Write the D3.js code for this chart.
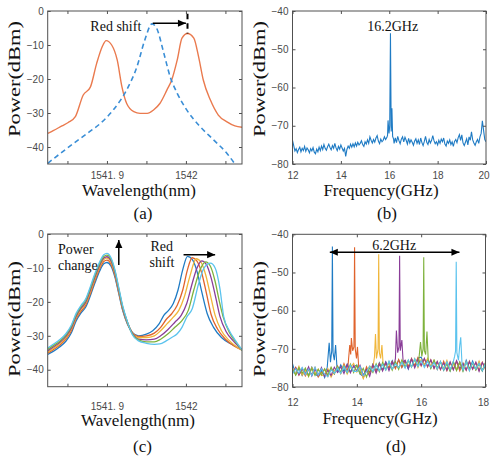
<!DOCTYPE html>
<html>
<head>
<meta charset="utf-8">
<script src="https://cdn.jsdelivr.net/npm/d3@7"></script>
<style>
html, body { margin: 0; padding: 0; background: #fff; }
svg { display: block; }
</style>
</head>
<body>
<svg id="fig" width="490" height="459"></svg>
<script>
// ---------- data ----------
// (a) optical spectra, [wavelength nm, power dBm]
const aBefore = [
	[1541.825, -44.8], [1541.841, -41.9], [1541.858, -38.9], [1541.875, -36.0], [1541.892, -33.0],
	[1541.908, -29.1], [1541.925, -23.2], [1541.938, -16.4], [1541.948, -8.5], [1541.957, -3.8],
	[1541.963, -5.1], [1541.972, -12.4], [1541.980, -19.3], [1541.989, -24.2], [1542.001, -29.1],
	[1542.018, -34.0], [1542.035, -37.9], [1542.052, -41.9], [1542.062, -45.0]
];
const aAfter = [
	[1541.825, -36.0], [1541.832, -35.2], [1541.843, -33.8], [1541.851, -32.8], [1541.860, -31.1],
	[1541.870, -24.7], [1541.879, -22.4], [1541.887, -15.4], [1541.894, -10.5], [1541.899, -8.7],
	[1541.906, -10.0], [1541.913, -14.4], [1541.919, -22.3], [1541.925, -27.2], [1541.934, -29.6],
	[1541.942, -30.1], [1541.951, -30.1], [1541.959, -29.1], [1541.967, -27.2], [1541.976, -23.2],
	[1541.982, -20.3], [1541.989, -14.4], [1541.995, -8.0], [1542.002, -6.6], [1542.010, -8.0],
	[1542.016, -13.4], [1542.022, -20.3], [1542.031, -26.2], [1542.041, -30.6], [1542.052, -32.6],
	[1542.062, -33.8], [1542.072, -34.2]
];

// (b) RF spectrum: noise floor on a 0.05 GHz grid from 12 GHz, plus the beat note
const bNoise = [
	-73.8, -75.2, -76.6, -76.0, -77.0, -76.2, -75.6, -76.8, -75.9, -76.5,
	-75.4, -76.7, -75.8, -76.3, -77.1, -76.0, -76.6, -75.7, -76.9, -77.3,
	-76.1, -76.8, -75.6, -76.5, -75.3, -76.2, -74.9, -75.9, -76.4, -75.5,
	-74.8, -75.7, -76.3, -75.2, -75.9, -74.6, -75.8, -76.5, -75.4, -76.1,
	-75.0, -75.8, -76.6, -75.9, -78.0, -76.2, -75.3, -75.9, -74.8, -75.6,
	-74.7, -75.5, -74.5, -75.3, -74.3, -75.0, -74.6, -73.9, -74.9, -75.4,
	-74.2, -74.8, -73.7, -74.6, -72.9, -73.8, -74.5, -73.6, -74.3, -73.2,
	-72.6, -74.0, -74.7, -73.5, -74.2, -73.8, -72.9, -73.6, -73.1, -72.4,
	-72.0, -72.0, -72.0, -72.0, -74.6, -73.2, -74.4, -72.8, -73.9, -74.7,
	-73.5, -72.9, -74.2, -73.0, -73.8, -74.8, -73.3, -74.5, -73.7, -74.3,
	-75.1, -74.0, -73.4, -74.6, -73.7, -74.9, -73.2, -74.4, -75.2, -74.1,
	-72.8, -74.3, -74.9, -73.6, -74.5, -73.8, -72.6, -73.9, -74.7, -74.2,
	-75.0, -73.8, -74.6, -73.5, -74.2, -73.2, -74.8, -75.3, -74.0, -74.6,
	-73.7, -74.9, -74.2, -75.4, -74.1, -73.6, -74.4, -73.1, -72.3, -73.8,
	-72.4, -74.5, -75.2, -74.3, -73.4, -75.0, -72.9, -73.8, -71.6, -73.7,
	-74.5, -75.1, -74.2, -73.6, -74.6, -72.9, -72.0, -68.7, -71.2, -73.6,
	-74.2
];
const bPeak = [
	[15.93, -72.5], [15.95, -68.6], [15.99, -72.0], [16.02, -70.0], [16.05, -45.8],
	[16.08, -71.5], [16.11, -65.4], [16.14, -72.8], [16.18, -73.5]
];

// (c) optical spectra for six bias points, [wavelength nm, power dBm]
const cTrace1 = [
	[1541.825, -35.5], [1541.832, -34.6], [1541.840, -33.3], [1541.848, -31.6], [1541.855, -29.1],
	[1541.861, -25.6], [1541.867, -23.3], [1541.873, -21.6], [1541.879, -18.2], [1541.885, -14.3],
	[1541.891, -10.8], [1541.896, -8.8], [1541.900, -8.4], [1541.905, -9.4], [1541.910, -12.6],
	[1541.915, -17.6], [1541.920, -22.6], [1541.926, -26.6], [1541.932, -29.0],
	[1541.940, -30.0], [1541.950, -29.5], [1541.958, -28.5], [1541.966, -26.5], [1541.972, -24.0],
	[1541.978, -22.5], [1541.984, -20.5], [1541.990, -16.5], [1541.996, -10.5], [1542.002, -6.6],
	[1542.008, -7.5], [1542.014, -11.0], [1542.020, -17.0], [1542.027, -23.5], [1542.035, -27.5],
	[1542.045, -30.5], [1542.058, -32.5], [1542.072, -34.2]
];
const cTrace2 = [
	[1541.825, -35.1], [1541.832, -34.1], [1541.840, -32.8], [1541.848, -31.0], [1541.855, -28.5],
	[1541.861, -25.0], [1541.867, -22.8], [1541.873, -21.0], [1541.879, -17.6], [1541.885, -13.6],
	[1541.891, -10.1], [1541.896, -8.1], [1541.900, -7.7], [1541.905, -8.8], [1541.910, -12.1],
	[1541.915, -17.2], [1541.920, -22.3], [1541.926, -26.4], [1541.932, -29.0],
	[1541.940, -30.2], [1541.950, -30.0], [1541.960, -29.2], [1541.968, -27.5], [1541.975, -25.2],
	[1541.982, -23.5], [1541.989, -21.0], [1541.996, -16.5], [1542.002, -10.5], [1542.008, -7.0],
	[1542.014, -8.0], [1542.020, -11.5], [1542.026, -17.5], [1542.032, -23.8], [1542.040, -28.0],
	[1542.050, -31.0], [1542.061, -33.0], [1542.072, -34.3]
];
const cTrace3 = [
	[1541.825, -34.8], [1541.832, -33.7], [1541.840, -32.4], [1541.848, -30.6], [1541.855, -28.0],
	[1541.861, -24.6], [1541.867, -22.3], [1541.873, -20.5], [1541.879, -17.0], [1541.885, -13.0],
	[1541.891, -9.6], [1541.896, -7.5], [1541.900, -7.1], [1541.905, -8.2], [1541.910, -11.6],
	[1541.915, -16.8], [1541.920, -22.0], [1541.926, -26.2], [1541.932, -29.1],
	[1541.940, -30.5], [1541.950, -30.5], [1541.960, -30.0], [1541.968, -28.5], [1541.976, -26.5],
	[1541.984, -24.5], [1541.991, -22.5], [1541.998, -18.5], [1542.005, -12.5], [1542.013, -7.3],
	[1542.019, -8.3], [1542.025, -12.0], [1542.031, -18.0], [1542.037, -24.0], [1542.045, -28.5],
	[1542.054, -31.2], [1542.064, -33.2], [1542.072, -34.4]
];
const cTrace4 = [
	[1541.825, -34.4], [1541.832, -33.3], [1541.840, -32.0], [1541.848, -30.2], [1541.855, -27.6],
	[1541.861, -24.2], [1541.867, -21.9], [1541.873, -20.1], [1541.879, -16.5], [1541.885, -12.5],
	[1541.891, -9.1], [1541.896, -7.1], [1541.900, -6.7], [1541.905, -7.8], [1541.910, -11.2],
	[1541.915, -16.5], [1541.920, -21.8], [1541.926, -26.1], [1541.932, -29.2],
	[1541.940, -31.0], [1541.950, -31.2], [1541.960, -31.0], [1541.968, -30.0], [1541.977, -28.2],
	[1541.986, -26.0], [1541.994, -24.0], [1542.001, -20.5], [1542.008, -14.5], [1542.014, -10.0],
	[1542.020, -7.9], [1542.026, -9.0], [1542.032, -13.0], [1542.038, -19.0], [1542.043, -24.2],
	[1542.051, -28.8], [1542.060, -31.5], [1542.072, -34.4]
];
const cTrace5 = [
	[1541.825, -34.0], [1541.832, -32.9], [1541.840, -31.6], [1541.848, -29.8], [1541.855, -27.2],
	[1541.861, -23.8], [1541.867, -21.5], [1541.873, -19.6], [1541.879, -16.0], [1541.885, -12.0],
	[1541.891, -8.6], [1541.896, -6.6], [1541.900, -6.2], [1541.905, -7.3], [1541.910, -10.8],
	[1541.915, -16.1], [1541.920, -21.5], [1541.926, -26.0], [1541.932, -29.4],
	[1541.940, -31.2], [1541.950, -31.8], [1541.960, -31.8], [1541.968, -31.0], [1541.977, -29.5],
	[1541.986, -27.5], [1541.995, -25.5], [1542.003, -22.5], [1542.010, -16.5], [1542.018, -10.5],
	[1542.025, -8.2], [1542.031, -9.5], [1542.037, -14.0], [1542.042, -19.5], [1542.047, -24.3],
	[1542.055, -29.0], [1542.063, -31.8], [1542.072, -34.5]
];
const cTrace6 = [
	[1541.825, -33.6], [1541.832, -32.5], [1541.840, -31.2], [1541.848, -29.4], [1541.855, -26.8],
	[1541.861, -23.4], [1541.867, -21.1], [1541.873, -19.2], [1541.879, -15.5], [1541.885, -11.5],
	[1541.891, -8.1], [1541.896, -6.1], [1541.900, -5.7], [1541.905, -6.9], [1541.910, -10.4],
	[1541.915, -15.8], [1541.920, -21.2], [1541.926, -25.9], [1541.932, -29.6],
	[1541.940, -31.5], [1541.950, -32.2], [1541.960, -32.5], [1541.967, -32.4], [1541.975, -31.5],
	[1541.982, -30.5], [1541.989, -29.4], [1541.995, -27.5], [1542.001, -24.5], [1542.008, -22.0],
	[1542.016, -14.7], [1542.023, -10.0], [1542.031, -8.6], [1542.037, -10.0], [1542.043, -16.0],
	[1542.048, -24.5], [1542.055, -28.5], [1542.063, -31.5], [1542.072, -34.5]
];

// (d) RF spectra: noise floors on a 0.1 GHz grid from 12 GHz, plus beat notes
const dNoise1 = [
	-73.9, -76.8, -75.1, -77.0, -75.4, -76.9, -74.8, -76.6, -77.2, -75.6,
	-77.5, -75.8, -76.9, -74.6, -76.3, -74.2, -75.9, -74.0, -76.1, -74.6,
	-74.3, -76.6, -77.3, -75.2, -76.1, -74.0, -75.8, -73.6, -75.5, -73.4,
	-75.2, -73.1, -75.0, -72.9, -74.8, -73.2, -75.3, -72.6, -74.6, -72.4,
	-72.2, -74.3, -72.8, -75.0, -73.1, -75.4, -73.3, -75.6, -73.6, -75.8,
	-73.5, -75.5, -73.4, -75.7, -73.0, -75.3, -73.2, -75.5, -73.5, -75.8, -73.7
];
const dNoise2 = [
	-76.3, -74.8, -76.9, -75.2, -77.1, -75.5, -76.8, -74.9, -77.4, -76.2,
	-75.4, -77.2, -75.1, -76.6, -74.5, -76.4, -73.9, -76.0, -74.2, -76.3,
	-77.0, -75.3, -77.6, -74.7, -76.4, -74.2, -75.9, -73.8, -75.6, -73.9,
	-74.9, -73.3, -75.2, -72.8, -74.9, -73.1, -74.6, -72.5, -74.4, -72.3,
	-74.5, -72.6, -74.8, -72.9, -75.2, -73.4, -75.5, -73.2, -75.7, -73.6,
	-75.4, -73.3, -75.8, -73.7, -75.6, -73.2, -75.3, -73.6, -75.7, -73.5, -75.4
];
const dNoise3 = [
	-75.0, -76.7, -74.6, -76.9, -75.6, -77.3, -74.9, -76.5, -75.3, -77.0,
	-76.8, -75.2, -77.4, -75.7, -74.9, -76.5, -74.3, -76.6, -74.9, -73.8,
	-76.1, -75.0, -77.8, -75.9, -74.5, -76.3, -74.0, -76.1, -73.7, -75.3,
	-73.6, -75.4, -73.5, -75.0, -73.2, -74.6, -73.0, -74.8, -72.6, -74.9,
	-72.8, -74.1, -72.5, -74.6, -73.0, -75.3, -73.6, -75.1, -73.0, -75.6,
	-74.0, -75.4, -73.5, -75.0, -73.4, -75.7, -73.8, -75.5, -73.2, -75.6, -74.0
];
const dNoise4 = [
	-76.4, -75.0, -76.8, -75.1, -76.6, -74.7, -77.1, -75.3, -76.9, -74.9,
	-77.2, -75.6, -77.0, -74.8, -76.2, -74.7, -76.5, -74.1, -76.3, -74.4,
	-75.8, -74.3, -76.9, -75.4, -77.2, -74.2, -76.4, -74.0, -75.8, -73.5,
	-75.7, -73.4, -75.5, -73.2, -74.9, -73.0, -75.2, -72.7, -75.0, -72.8,
	-74.3, -72.5, -74.6, -72.9, -75.1, -73.3, -75.4, -73.7, -75.6, -73.4,
	-75.5, -73.1, -75.2, -73.9, -75.6, -73.4, -75.3, -73.5, -75.9, -73.6, -75.1
];
const dNoise5 = [
	-75.3, -76.9, -74.9, -76.4, -75.0, -77.2, -75.1, -77.0, -75.4, -76.8,
	-75.2, -76.9, -74.8, -76.6, -74.6, -76.1, -74.5, -76.3, -74.0, -76.2,
	-74.3, -76.5, -75.1, -77.4, -74.9, -76.2, -73.9, -76.0, -73.6, -75.5,
	-73.4, -75.6, -73.3, -75.4, -72.9, -74.8, -73.1, -74.7, -72.8, -74.5,
	-72.7, -74.6, -72.8, -75.2, -73.0, -75.0, -73.4, -75.6, -73.9, -75.8,
	-73.3, -75.7, -73.6, -75.9, -73.5, -75.2, -73.7, -75.5, -74.0, -75.8, -73.6
];
const dNoise6 = [
	-76.6, -75.2, -76.4, -74.9, -76.8, -75.3, -77.0, -74.8, -76.9, -75.2,
	-76.7, -77.3, -75.5, -76.4, -75.0, -76.5, -74.6, -76.2, -74.3, -75.9,
	-75.9, -74.6, -77.1, -76.0, -74.6, -75.9, -74.3, -75.7, -74.1, -75.6,
	-73.2, -75.3, -73.9, -74.9, -73.5, -75.1, -72.9, -74.8, -72.6, -74.6,
	-73.1, -74.9, -73.3, -74.8, -73.6, -75.2, -73.4, -75.5, -73.4, -75.4,
	-73.8, -75.6, -73.9, -75.7, -73.4, -75.8, -73.6, -75.3, -73.8, -75.7, -73.9
];
const dPeak1 = [[13.08, -74.8], [13.14, -68.4], [13.18, -73.5], [13.22, -70.5], [13.24, -43.2], [13.26, -71.0], [13.30, -73.0], [13.34, -69.0], [13.38, -74.5]];
const dPeak2 = [[13.72, -75.0], [13.78, -69.0], [13.81, -71.5], [13.83, -67.2], [13.87, -70.5], [13.91, -69.5], [13.93, -43.4], [13.95, -70.0], [13.99, -72.5], [14.02, -69.5], [14.06, -75.0]];
const dPeak3 = [[14.50, -75.0], [14.55, -72.0], [14.58, -66.1], [14.61, -72.5], [14.66, -70.0], [14.68, -45.2], [14.70, -71.0], [14.74, -72.5], [14.78, -69.0], [14.82, -74.5]];
const dPeak4 = [[15.15, -74.8], [15.20, -72.5], [15.23, -65.2], [15.27, -71.0], [15.31, -69.5], [15.33, -45.6], [15.35, -70.5], [15.40, -67.7], [15.44, -73.5]];
const dPeak5 = [[15.92, -73.5], [15.98, -68.2], [16.02, -72.0], [16.06, -70.0], [16.08, -46.0], [16.10, -70.5], [16.14, -71.5], [16.18, -65.5], [16.22, -73.0]];
const dPeak6 = [[16.98, -74.0], [17.04, -72.0], [17.07, -70.5], [17.09, -47.2], [17.11, -71.0], [17.16, -73.0], [17.20, -69.0], [17.23, -67.0], [17.27, -74.0]];

// axis ticks
const wlTicks = [1541.85, 1541.9, 1541.95, 1542, 1542.05];
const wlTickText = { 1541.9: "1541. 9", 1542: "1542" };
const optPowTicks = [0, -10, -20, -30, -40];
const rfPowTicks = [-40, -50, -60, -70, -80];
const bFreqTicks = [12, 14, 16, 18, 20];
const dFreqTicks = [12, 14, 16, 18];

// MATLAB default line colours
const matlab = ["#1f7bc4", "#e0632c", "#f0b63a", "#8a3d98", "#7eb23c", "#5bc3ee"];

// ---------- drawing ----------
const SERIF = "'Liberation Serif','Times New Roman',serif";
const SANS = "'Liberation Sans',Arial,Helvetica,sans-serif";
const svg = d3.select("#fig");
svg.append("rect").attr("width", 490).attr("height", 459).attr("fill", "#fff");

// noise grid merged with the peak cluster (grid points inside the cluster are dropped)
function withPeaks(start, step, noise, peaks) {
	const lo = peaks[0][0], hi = peaks[peaks.length - 1][0];
	return noise
		.map((v, i) => [+(start + i * step).toFixed(3), v])
		.filter(([f]) => f < lo || f > hi)
		.concat(peaks)
		.sort((a, b) => a[0] - b[0]);
}

function makePanel(o) {
	const x = d3.scaleLinear().domain(o.xDomain).range([o.left, o.right]);
	const y = d3.scaleLinear().domain(o.yDomain).range([o.bottom, o.top]);
	const g = svg.append("g");

	g.append("clipPath").attr("id", "clip-" + o.id)
		.append("rect")
		.attr("x", o.left).attr("y", o.top)
		.attr("width", o.right - o.left).attr("height", o.bottom - o.top);
	const plot = g.append("g").attr("clip-path", `url(#clip-${o.id})`);

	const tickColor = "#505050";
	const axes = g.append("g")
		.attr("font-family", SANS)
		.attr("font-size", 10);

	//bottom, with labels
	const bottomAxis = axes.append("g")
		.attr("transform", `translate(0,${o.bottom})`)
		.call(d3.axisBottom(x).tickValues(o.xTicks).tickSize(-3).tickPadding(o.xTickY - o.bottom - 7).tickFormat(o.xFmt));
	//keep the last label inside the picture
	bottomAxis.selectAll(".tick:last-of-type text").attr("dx", o.lastDx || 0);
	//top, ticks only
	axes.append("g")
		.attr("transform", `translate(0,${o.top})`)
		.call(d3.axisTop(x).tickValues(o.xTicks).tickSize(-3).tickFormat(""));
	//left, with labels
	axes.append("g")
		.attr("transform", `translate(${o.left},0)`)
		.call(d3.axisLeft(y).tickValues(o.yTicks).tickSize(-3).tickPadding(4).tickFormat(d3.format("d")));
	//right, ticks only
	axes.append("g")
		.attr("transform", `translate(${o.right},0)`)
		.call(d3.axisRight(y).tickValues(o.yTicks).tickSize(-3).tickFormat(""));

	axes.selectAll(".domain").remove();
	axes.selectAll(".tick line").attr("stroke", tickColor);
	axes.selectAll(".tick text").attr("fill", "#4a4a4a");

	g.append("rect")
		.attr("x", o.left).attr("y", o.top)
		.attr("width", o.right - o.left).attr("height", o.bottom - o.top)
		.attr("fill", "none").attr("stroke", tickColor).attr("stroke-width", 1);

	//axis titles and caption
	g.append("text")
		.attr("x", o.xLabelX).attr("y", o.xLabelY)
		.attr("text-anchor", "middle")
		.attr("font-family", SERIF).attr("font-size", 17).attr("fill", "#111")
		.text(o.xLabel);
	g.append("text")
		.attr("transform", `translate(${o.yLabelX},${o.yLabelY}) rotate(-90) scale(1.32,1)`)
		.attr("text-anchor", "middle")
		.attr("font-family", SERIF).attr("font-size", 17).attr("fill", "#111")
		.text("Power(dBm)");
	g.append("text")
		.attr("x", o.capX).attr("y", o.capY)
		.attr("text-anchor", "middle")
		.attr("font-family", SERIF).attr("font-size", 17).attr("fill", "#111")
		.text(o.caption);

	return { x, y, g, plot };
}

function note(g, txt, px, py, anchor) {
	g.append("text")
		.attr("x", px).attr("y", py)
		.attr("text-anchor", anchor || "start")
		.attr("font-family", SERIF).attr("font-size", 14).attr("fill", "#111")
		.text(txt);
}

// arrow from (x1,y1) to (x2,y2); heads at the end, and at the start when both = true
function arrow(g, x1, y1, x2, y2, both) {
	const len = 8, half = 3.6;
	const ang = Math.atan2(y2 - y1, x2 - x1);
	const head = (hx, hy, a) => {
		const bx = hx - len * Math.cos(a), by = hy - len * Math.sin(a);
		const px = -Math.sin(a) * half, py = Math.cos(a) * half;
		return `M${hx},${hy}L${bx + px},${by + py}L${bx - px},${by - py}Z`;
	};
	g.append("line")
		.attr("x1", x1).attr("y1", y1).attr("x2", x2).attr("y2", y2)
		.attr("stroke", "#000").attr("stroke-width", 1.5);
	g.append("path").attr("d", head(x2, y2, ang)).attr("fill", "#000");
	if (both) g.append("path").attr("d", head(x1, y1, ang + Math.PI)).attr("fill", "#000");
}

const fmtWl = (d) => wlTickText[d] || "";

// ---- panel (a)
const pa = makePanel({
	id: "a", left: 47.7, top: 11, right: 242, bottom: 164,
	xDomain: [1541.825, 1542.071], yDomain: [-45, 0],
	xTicks: wlTicks, yTicks: optPowTicks, xFmt: fmtWl, xTickY: 179,
	xLabel: "Wavelength(nm)", xLabelX: 139, xLabelY: 196,
	yLabelX: 20, yLabelY: 79, caption: "(a)", capX: 143, capY: 219
});
const smooth = d3.line().curve(d3.curveMonotoneX);
pa.plot.append("path")
	.attr("d", smooth.x((d) => pa.x(d[0])).y((d) => pa.y(d[1]))(aAfter))
	.attr("fill", "none").attr("stroke", "#ea7a4e").attr("stroke-width", 1.4);
pa.plot.append("path")
	.attr("d", smooth.x((d) => pa.x(d[0])).y((d) => pa.y(d[1]))(aBefore))
	.attr("fill", "none").attr("stroke", "#3a8ed6").attr("stroke-width", 1.6)
	.attr("stroke-dasharray", "5,3.5");
pa.g.append("line")
	.attr("x1", pa.x(1542.002)).attr("x2", pa.x(1542.002))
	.attr("y1", pa.y(-0.8)).attr("y2", pa.y(-6.6))
	.attr("stroke", "#000").attr("stroke-width", 2).attr("stroke-dasharray", "5.5,4");
arrow(pa.g, pa.x(1541.958), pa.y(-3.6), pa.x(1542.000), pa.y(-3.6));
note(pa.g, "Red shift", pa.x(1541.879), pa.y(-5.9));

// ---- panel (b)
const pb = makePanel({
	id: "b", left: 292.5, top: 11, right: 486, bottom: 164,
	xDomain: [12, 20], yDomain: [-80, -40],
	xTicks: bFreqTicks, yTicks: rfPowTicks, xFmt: d3.format("d"), xTickY: 179, lastDx: -2.5,
	xLabel: "Frequency(GHz)", xLabelX: 381, xLabelY: 196,
	yLabelX: 265, yLabelY: 79, caption: "(b)", capX: 387, capY: 219
});
const straight = d3.line();
pb.plot.append("path")
	.attr("d", straight.x((d) => pb.x(d[0])).y((d) => pb.y(d[1]))(withPeaks(12, 0.05, bNoise, bPeak)))
	.attr("fill", "none").attr("stroke", "#1f7bc4").attr("stroke-width", 1.1);
note(pb.g, "16.2GHz", pb.x(16.14), pb.y(-45.2), "middle");

// ---- panel (c)
const pc = makePanel({
	id: "c", left: 47.7, top: 234, right: 242, bottom: 386.7,
	xDomain: [1541.825, 1542.071], yDomain: [-45, 0],
	xTicks: wlTicks, yTicks: optPowTicks, xFmt: fmtWl, xTickY: 409.5,
	xLabel: "Wavelength(nm)", xLabelX: 138, xLabelY: 426,
	yLabelX: 20, yLabelY: 319, caption: "(c)", capX: 142.5, capY: 452
});
const cTraces = [cTrace1, cTrace2, cTrace3, cTrace4, cTrace5, cTrace6];
pc.plot.selectAll("path.trace")
	.data(cTraces)
	.join("path")
	.attr("class", "trace")
	.attr("d", (t) => smooth.x((d) => pc.x(d[0])).y((d) => pc.y(d[1]))(t))
	.attr("fill", "none")
	.attr("stroke", (t, i) => matlab[i])
	.attr("stroke-width", 1.3);
note(pc.g, "Power", pc.x(1541.838), pc.y(-5.9));
note(pc.g, "change", pc.x(1541.838), pc.y(-10.6));
arrow(pc.g, pc.x(1541.915), pc.y(-9.1), pc.x(1541.915), pc.y(-1.8));
note(pc.g, "Red", pc.x(1541.955), pc.y(-5.0));
note(pc.g, "shift", pc.x(1541.954), pc.y(-9.85));
arrow(pc.g, pc.x(1541.997), pc.y(-6.1), pc.x(1542.037), pc.y(-6.1));

// ---- panel (d)
const pd = makePanel({
	id: "d", left: 292.5, top: 234.3, right: 485.5, bottom: 387,
	xDomain: [12, 18], yDomain: [-80, -40],
	xTicks: dFreqTicks, yTicks: rfPowTicks, xFmt: d3.format("d"), xTickY: 406, lastDx: -2.5,
	xLabel: "Frequency(GHz)", xLabelX: 380, xLabelY: 424,
	yLabelX: 265, yLabelY: 319, caption: "(d)", capX: 396, capY: 452
});
const dTraces = [
	withPeaks(12, 0.1, dNoise1, dPeak1),
	withPeaks(12, 0.1, dNoise2, dPeak2),
	withPeaks(12, 0.1, dNoise3, dPeak3),
	withPeaks(12, 0.1, dNoise4, dPeak4),
	withPeaks(12, 0.1, dNoise5, dPeak5),
	withPeaks(12, 0.1, dNoise6, dPeak6)
];
pd.plot.selectAll("path.trace")
	.data(dTraces)
	.join("path")
	.attr("class", "trace")
	.attr("d", (t) => straight.x((d) => pd.x(d[0])).y((d) => pd.y(d[1]))(t))
	.attr("fill", "none")
	.attr("stroke", (t, i) => matlab[i])
	.attr("stroke-width", 1.1);
arrow(pd.g, pd.x(13.16), pd.y(-44.7), pd.x(17.19), pd.y(-44.7), true);
note(pd.g, "6.2GHz", pd.x(15.16), pd.y(-44.1), "middle");
</script>
</body>
</html>
